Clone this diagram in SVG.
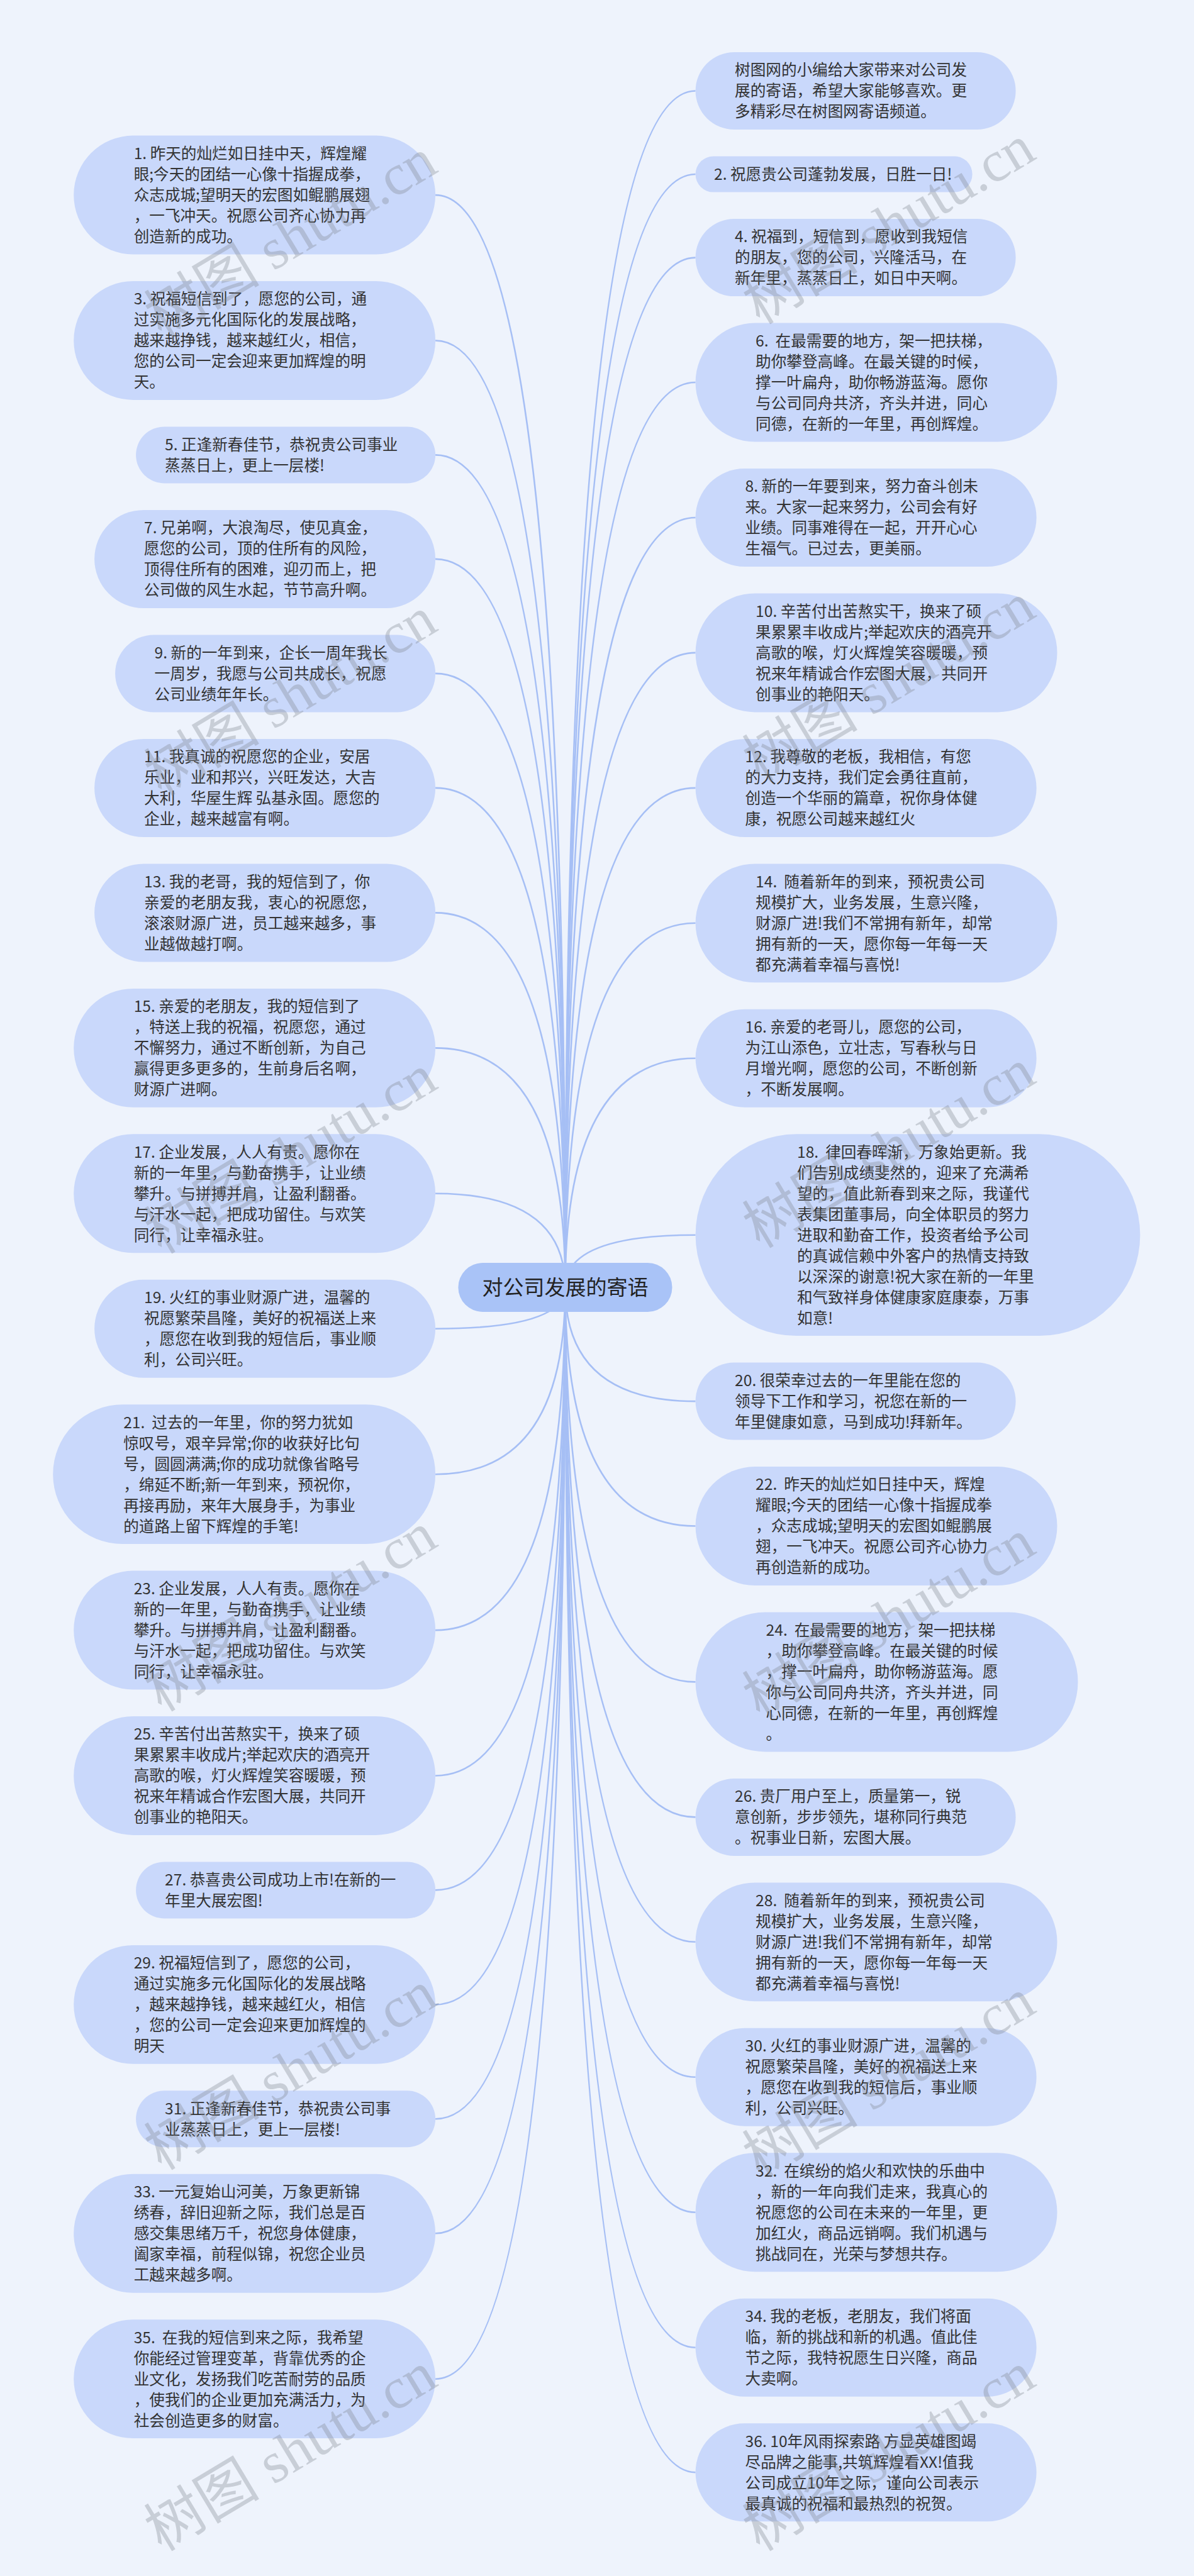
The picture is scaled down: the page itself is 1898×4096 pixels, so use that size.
<svg xmlns="http://www.w3.org/2000/svg" width="1898" height="4096" viewBox="0 0 1898 4096">
<style>
.bg{fill:#eef3fc}
.n rect{fill:#c9d8fb}
text{font-family:"Noto Sans CJK SC","Noto Sans",sans-serif}
.n text{font-size:24.6px;fill:#333}
#root rect{fill:#a9c3f7}
#root text{font-size:33px;fill:#222}
#links path{fill:none;stroke:#a6bff5;stroke-width:2.6}
.wm text{font-family:"Liberation Serif","Noto Sans CJK SC",serif;font-size:92px;fill:#7d828c;fill-opacity:0.33}
</style>
<rect class="bg" x="0" y="0" width="1898" height="4096"/>
<g id="links">
<path d="M898.5 2047Q898.5 310.1 692.1 310.1"/>
<path d="M898.5 2047Q898.5 541.5 692.1 541.5"/>
<path d="M898.5 2047Q898.5 723.4 692.1 723.4"/>
<path d="M898.5 2047Q898.5 888.9 692.1 888.9"/>
<path d="M898.5 2047Q898.5 1070.9 692.1 1070.9"/>
<path d="M898.5 2047Q898.5 1252.9 692.1 1252.9"/>
<path d="M898.5 2047Q898.5 1451.4 692.1 1451.4"/>
<path d="M898.5 2047Q898.5 1666.4 692.1 1666.4"/>
<path d="M898.5 2047Q898.5 1897.8 692.1 1897.8"/>
<path d="M898.5 2047Q898.5 2112.7 692.1 2112.7"/>
<path d="M898.5 2047Q898.5 2344.2 692.1 2344.2"/>
<path d="M898.5 2047Q898.5 2592.1 692.1 2592.1"/>
<path d="M898.5 2047Q898.5 2823.5 692.1 2823.5"/>
<path d="M898.5 2047Q898.5 3005.4 692.1 3005.4"/>
<path d="M898.5 2047Q898.5 3187.4 692.1 3187.4"/>
<path d="M898.5 2047Q898.5 3369.3 692.1 3369.3"/>
<path d="M898.5 2047Q898.5 3551.3 692.1 3551.3"/>
<path d="M898.5 2047Q898.5 3782.7 692.1 3782.7"/>
<path d="M898.5 2047Q898.5 144.5 1105.6 144.5"/>
<path d="M898.5 2047Q898.5 277.0 1105.6 277.0"/>
<path d="M898.5 2047Q898.5 409.6 1105.6 409.6"/>
<path d="M898.5 2047Q898.5 608.0 1105.6 608.0"/>
<path d="M898.5 2047Q898.5 823.0 1105.6 823.0"/>
<path d="M898.5 2047Q898.5 1037.9 1105.6 1037.9"/>
<path d="M898.5 2047Q898.5 1252.9 1105.6 1252.9"/>
<path d="M898.5 2047Q898.5 1467.8 1105.6 1467.8"/>
<path d="M898.5 2047Q898.5 1682.8 1105.6 1682.8"/>
<path d="M898.5 2047Q898.5 1963.7 1105.6 1963.7"/>
<path d="M898.5 2047Q898.5 2228.1 1105.6 2228.1"/>
<path d="M898.5 2047Q898.5 2426.5 1105.6 2426.5"/>
<path d="M898.5 2047Q898.5 2674.4 1105.6 2674.4"/>
<path d="M898.5 2047Q898.5 2889.4 1105.6 2889.4"/>
<path d="M898.5 2047Q898.5 3087.8 1105.6 3087.8"/>
<path d="M898.5 2047Q898.5 3302.8 1105.6 3302.8"/>
<path d="M898.5 2047Q898.5 3517.7 1105.6 3517.7"/>
<path d="M898.5 2047Q898.5 3732.7 1105.6 3732.7"/>
<path d="M898.5 2047Q898.5 3931.2 1105.6 3931.2"/>
</g>
<g id="root"><rect x="728.4" y="2008.1" width="340.1" height="77.8" rx="38.9"/><text x="898.5" y="2059" text-anchor="middle">对公司发展的寄语</text></g>

<g id="n1" class="n"><rect x="117.2" y="215.6" width="574.9" height="188.9" rx="94.5"/><text xml:space="preserve"><tspan x="212.7" y="252.9">1. 昨天的灿烂如日挂中天，辉煌耀</tspan><tspan x="212.7" dy="33">眼;今天的团结一心像十指握成拳，</tspan><tspan x="212.7" dy="33">众志成城;望明天的宏图如鲲鹏展翅</tspan><tspan x="212.7" dy="33">，一飞冲天。祝愿公司齐心协力再</tspan><tspan x="212.7" dy="33">创造新的成功。</tspan></text></g>
<g id="n3" class="n"><rect x="117.2" y="447.0" width="574.9" height="188.9" rx="94.5"/><text xml:space="preserve"><tspan x="212.7" y="484.3">3. 祝福短信到了，愿您的公司，通</tspan><tspan x="212.7" dy="33">过实施多元化国际化的发展战略，</tspan><tspan x="212.7" dy="33">越来越挣钱，越来越红火，相信，</tspan><tspan x="212.7" dy="33">您的公司一定会迎来更加辉煌的明</tspan><tspan x="212.7" dy="33">天。</tspan></text></g>
<g id="n5" class="n"><rect x="216.1" y="678.4" width="476" height="90" rx="45"/><text xml:space="preserve"><tspan x="262.1" y="715.7">5. 正逢新春佳节，恭祝贵公司事业</tspan><tspan x="262.1" dy="33">蒸蒸日上，更上一层楼!</tspan></text></g>
<g id="n7" class="n"><rect x="150.1" y="810.9" width="542" height="156" rx="78"/><text xml:space="preserve"><tspan x="229.1" y="848.2">7. 兄弟啊，大浪淘尽，使见真金，</tspan><tspan x="229.1" dy="33">愿您的公司，顶的住所有的风险，</tspan><tspan x="229.1" dy="33">顶得住所有的困难，迎刃而上，把</tspan><tspan x="229.1" dy="33">公司做的风生水起，节节高升啊。</tspan></text></g>
<g id="n9" class="n"><rect x="183.1" y="1009.4" width="509" height="123" rx="61.5"/><text xml:space="preserve"><tspan x="245.6" y="1046.7">9. 新的一年到来，企长一周年我长</tspan><tspan x="245.6" dy="33">一周岁，我愿与公司共成长，祝愿</tspan><tspan x="245.6" dy="33">公司业绩年年长。</tspan></text></g>
<g id="n11" class="n"><rect x="150.1" y="1174.9" width="542" height="156" rx="78"/><text xml:space="preserve"><tspan x="229.1" y="1212.2">11. 我真诚的祝愿您的企业，安居</tspan><tspan x="229.1" dy="33">乐业，业和邦兴，兴旺发达，大吉</tspan><tspan x="229.1" dy="33">大利，华屋生辉 弘基永固。愿您的</tspan><tspan x="229.1" dy="33">企业，越来越富有啊。</tspan></text></g>
<g id="n13" class="n"><rect x="150.1" y="1373.4" width="542" height="156" rx="78"/><text xml:space="preserve"><tspan x="229.1" y="1410.7">13. 我的老哥，我的短信到了，你</tspan><tspan x="229.1" dy="33">亲爱的老朋友我，衷心的祝愿您，</tspan><tspan x="229.1" dy="33">滚滚财源广进，员工越来越多，事</tspan><tspan x="229.1" dy="33">业越做越打啊。</tspan></text></g>
<g id="n15" class="n"><rect x="117.2" y="1571.9" width="574.9" height="188.9" rx="94.5"/><text xml:space="preserve"><tspan x="212.7" y="1609.2">15. 亲爱的老朋友，我的短信到了</tspan><tspan x="212.7" dy="33">，特送上我的祝福，祝愿您，通过</tspan><tspan x="212.7" dy="33">不懈努力，通过不断创新，为自己</tspan><tspan x="212.7" dy="33">赢得更多更多的，生前身后名啊，</tspan><tspan x="212.7" dy="33">财源广进啊。</tspan></text></g>
<g id="n17" class="n"><rect x="117.2" y="1803.3" width="574.9" height="188.9" rx="94.5"/><text xml:space="preserve"><tspan x="212.7" y="1840.6">17. 企业发展，人人有责。愿你在</tspan><tspan x="212.7" dy="33">新的一年里，与勤奋携手，让业绩</tspan><tspan x="212.7" dy="33">攀升。与拼搏并肩，让盈利翻番。</tspan><tspan x="212.7" dy="33">与汗水一起，把成功留住。与欢笑</tspan><tspan x="212.7" dy="33">同行，让幸福永驻。</tspan></text></g>
<g id="n19" class="n"><rect x="150.1" y="2034.7" width="542" height="156" rx="78"/><text xml:space="preserve"><tspan x="229.1" y="2072.0">19. 火红的事业财源广进，温馨的</tspan><tspan x="229.1" dy="33">祝愿繁荣昌隆，美好的祝福送上来</tspan><tspan x="229.1" dy="33">，愿您在收到我的短信后，事业顺</tspan><tspan x="229.1" dy="33">利，公司兴旺。</tspan></text></g>
<g id="n21" class="n"><rect x="84.2" y="2233.2" width="607.9" height="221.9" rx="111"/><text xml:space="preserve"><tspan x="196.2" y="2270.5">21.  过去的一年里，你的努力犹如</tspan><tspan x="196.2" dy="33">惊叹号，艰辛异常;你的收获好比句</tspan><tspan x="196.2" dy="33">号，圆圆满满;你的成功就像省略号</tspan><tspan x="196.2" dy="33">，绵延不断;新一年到来，预祝你，</tspan><tspan x="196.2" dy="33">再接再励，来年大展身手，为事业</tspan><tspan x="196.2" dy="33">的道路上留下辉煌的手笔!</tspan></text></g>
<g id="n23" class="n"><rect x="117.2" y="2497.6" width="574.9" height="188.9" rx="94.5"/><text xml:space="preserve"><tspan x="212.7" y="2534.9">23. 企业发展，人人有责。愿你在</tspan><tspan x="212.7" dy="33">新的一年里，与勤奋携手，让业绩</tspan><tspan x="212.7" dy="33">攀升。与拼搏并肩，让盈利翻番。</tspan><tspan x="212.7" dy="33">与汗水一起，把成功留住。与欢笑</tspan><tspan x="212.7" dy="33">同行，让幸福永驻。</tspan></text></g>
<g id="n25" class="n"><rect x="117.2" y="2729.0" width="574.9" height="188.9" rx="94.5"/><text xml:space="preserve"><tspan x="212.7" y="2766.3">25. 辛苦付出苦熬实干，换来了硕</tspan><tspan x="212.7" dy="33">果累累丰收成片;举起欢庆的酒亮开</tspan><tspan x="212.7" dy="33">高歌的喉，灯火辉煌笑容暖暖，预</tspan><tspan x="212.7" dy="33">祝来年精诚合作宏图大展，共同开</tspan><tspan x="212.7" dy="33">创事业的艳阳天。</tspan></text></g>
<g id="n27" class="n"><rect x="216.1" y="2960.4" width="476" height="90" rx="45"/><text xml:space="preserve"><tspan x="262.1" y="2997.7">27. 恭喜贵公司成功上市!在新的一</tspan><tspan x="262.1" dy="33">年里大展宏图!</tspan></text></g>
<g id="n29" class="n"><rect x="117.2" y="3092.9" width="574.9" height="188.9" rx="94.5"/><text xml:space="preserve"><tspan x="212.7" y="3130.2">29. 祝福短信到了，愿您的公司，</tspan><tspan x="212.7" dy="33">通过实施多元化国际化的发展战略</tspan><tspan x="212.7" dy="33">，越来越挣钱，越来越红火，相信</tspan><tspan x="212.7" dy="33">，您的公司一定会迎来更加辉煌的</tspan><tspan x="212.7" dy="33">明天</tspan></text></g>
<g id="n31" class="n"><rect x="216.1" y="3324.3" width="476" height="90" rx="45"/><text xml:space="preserve"><tspan x="262.1" y="3361.6">31. 正逢新春佳节，恭祝贵公司事</tspan><tspan x="262.1" dy="33">业蒸蒸日上，更上一层楼!</tspan></text></g>
<g id="n33" class="n"><rect x="117.2" y="3456.8" width="574.9" height="188.9" rx="94.5"/><text xml:space="preserve"><tspan x="212.7" y="3494.1">33. 一元复始山河美，万象更新锦</tspan><tspan x="212.7" dy="33">绣春，辞旧迎新之际，我们总是百</tspan><tspan x="212.7" dy="33">感交集思绪万千，祝您身体健康，</tspan><tspan x="212.7" dy="33">阖家幸福，前程似锦，祝您企业员</tspan><tspan x="212.7" dy="33">工越来越多啊。</tspan></text></g>
<g id="n35" class="n"><rect x="117.2" y="3688.2" width="574.9" height="188.9" rx="94.5"/><text xml:space="preserve"><tspan x="212.7" y="3725.5">35.  在我的短信到来之际，我希望</tspan><tspan x="212.7" dy="33">你能经过管理变革，背靠优秀的企</tspan><tspan x="212.7" dy="33">业文化，发扬我们吃苦耐劳的品质</tspan><tspan x="212.7" dy="33">，使我们的企业更加充满活力，为</tspan><tspan x="212.7" dy="33">社会创造更多的财富。</tspan></text></g>

<g id="n0" class="n"><rect x="1105.6" y="83.0" width="509" height="123" rx="61.5"/><text xml:space="preserve"><tspan x="1168.1" y="120.3">树图网的小编给大家带来对公司发</tspan><tspan x="1168.1" dy="33">展的寄语，希望大家能够喜欢。更</tspan><tspan x="1168.1" dy="33">多精彩尽在树图网寄语频道。</tspan></text></g>
<g id="n2" class="n"><rect x="1105.6" y="248.5" width="440" height="57.05" rx="28.5"/><text xml:space="preserve"><tspan x="1135.1" y="285.8">2. 祝愿贵公司蓬勃发展，日胜一日!</tspan></text></g>
<g id="n4" class="n"><rect x="1105.6" y="348.1" width="509" height="123" rx="61.5"/><text xml:space="preserve"><tspan x="1168.1" y="385.4">4. 祝福到，短信到，愿收到我短信</tspan><tspan x="1168.1" dy="33">的朋友，您的公司，兴隆活马，在</tspan><tspan x="1168.1" dy="33">新年里，蒸蒸日上，如日中天啊。</tspan></text></g>
<g id="n6" class="n"><rect x="1105.6" y="513.6" width="574.9" height="188.9" rx="94.5"/><text xml:space="preserve"><tspan x="1201.1" y="550.8">6.  在最需要的地方，架一把扶梯，</tspan><tspan x="1201.1" dy="33">助你攀登高峰。在最关键的时候，</tspan><tspan x="1201.1" dy="33">撑一叶扁舟，助你畅游蓝海。愿你</tspan><tspan x="1201.1" dy="33">与公司同舟共济，齐头并进，同心</tspan><tspan x="1201.1" dy="33">同德，在新的一年里，再创辉煌。</tspan></text></g>
<g id="n8" class="n"><rect x="1105.6" y="745.0" width="542" height="156" rx="78"/><text xml:space="preserve"><tspan x="1184.6" y="782.3">8. 新的一年要到来，努力奋斗创未</tspan><tspan x="1184.6" dy="33">来。大家一起来努力，公司会有好</tspan><tspan x="1184.6" dy="33">业绩。同事难得在一起，开开心心</tspan><tspan x="1184.6" dy="33">生福气。已过去，更美丽。</tspan></text></g>
<g id="n10" class="n"><rect x="1105.6" y="943.5" width="574.9" height="188.9" rx="94.5"/><text xml:space="preserve"><tspan x="1201.1" y="980.7">10. 辛苦付出苦熬实干，换来了硕</tspan><tspan x="1201.1" dy="33">果累累丰收成片;举起欢庆的酒亮开</tspan><tspan x="1201.1" dy="33">高歌的喉，灯火辉煌笑容暖暖，预</tspan><tspan x="1201.1" dy="33">祝来年精诚合作宏图大展，共同开</tspan><tspan x="1201.1" dy="33">创事业的艳阳天。</tspan></text></g>
<g id="n12" class="n"><rect x="1105.6" y="1174.9" width="542" height="156" rx="78"/><text xml:space="preserve"><tspan x="1184.6" y="1212.2">12. 我尊敬的老板，我相信，有您</tspan><tspan x="1184.6" dy="33">的大力支持，我们定会勇往直前，</tspan><tspan x="1184.6" dy="33">创造一个华丽的篇章，祝你身体健</tspan><tspan x="1184.6" dy="33">康，祝愿公司越来越红火</tspan></text></g>
<g id="n14" class="n"><rect x="1105.6" y="1373.4" width="574.9" height="188.9" rx="94.5"/><text xml:space="preserve"><tspan x="1201.1" y="1410.6">14.  随着新年的到来，预祝贵公司</tspan><tspan x="1201.1" dy="33">规模扩大，业务发展，生意兴隆，</tspan><tspan x="1201.1" dy="33">财源广进!我们不常拥有新年，却常</tspan><tspan x="1201.1" dy="33">拥有新的一天，愿你每一年每一天</tspan><tspan x="1201.1" dy="33">都充满着幸福与喜悦!</tspan></text></g>
<g id="n16" class="n"><rect x="1105.6" y="1604.8" width="542" height="156" rx="78"/><text xml:space="preserve"><tspan x="1184.6" y="1642.1">16. 亲爱的老哥儿，愿您的公司，</tspan><tspan x="1184.6" dy="33">为江山添色，立壮志，写春秋与日</tspan><tspan x="1184.6" dy="33">月增光啊，愿您的公司，不断创新</tspan><tspan x="1184.6" dy="33">，不断发展啊。</tspan></text></g>
<g id="n18" class="n"><rect x="1105.6" y="1803.3" width="706.8" height="320.8" rx="160.4"/><text xml:space="preserve"><tspan x="1267" y="1840.5">18.  律回春晖渐，万象始更新。我</tspan><tspan x="1267" dy="33">们告别成绩斐然的，迎来了充满希</tspan><tspan x="1267" dy="33">望的，值此新春到来之际，我谨代</tspan><tspan x="1267" dy="33">表集团董事局，向全体职员的努力</tspan><tspan x="1267" dy="33">进取和勤奋工作，投资者给予公司</tspan><tspan x="1267" dy="33">的真诚信赖中外客户的热情支持致</tspan><tspan x="1267" dy="33">以深深的谢意!祝大家在新的一年里</tspan><tspan x="1267" dy="33">和气致祥身体健康家庭康泰，万事</tspan><tspan x="1267" dy="33">如意!</tspan></text></g>
<g id="n20" class="n"><rect x="1105.6" y="2166.6" width="509" height="123" rx="61.5"/><text xml:space="preserve"><tspan x="1168.1" y="2203.9">20. 很荣幸过去的一年里能在您的</tspan><tspan x="1168.1" dy="33">领导下工作和学习，祝您在新的一</tspan><tspan x="1168.1" dy="33">年里健康如意，马到成功!拜新年。</tspan></text></g>
<g id="n22" class="n"><rect x="1105.6" y="2332.1" width="574.9" height="188.9" rx="94.5"/><text xml:space="preserve"><tspan x="1201.1" y="2369.3">22.  昨天的灿烂如日挂中天，辉煌</tspan><tspan x="1201.1" dy="33">耀眼;今天的团结一心像十指握成拳</tspan><tspan x="1201.1" dy="33">，众志成城;望明天的宏图如鲲鹏展</tspan><tspan x="1201.1" dy="33">翅，一飞冲天。祝愿公司齐心协力</tspan><tspan x="1201.1" dy="33">再创造新的成功。</tspan></text></g>
<g id="n24" class="n"><rect x="1105.6" y="2563.5" width="607.9" height="221.9" rx="111"/><text xml:space="preserve"><tspan x="1217.6" y="2600.7">24.  在最需要的地方，架一把扶梯</tspan><tspan x="1217.6" dy="33">，助你攀登高峰。在最关键的时候</tspan><tspan x="1217.6" dy="33">，撑一叶扁舟，助你畅游蓝海。愿</tspan><tspan x="1217.6" dy="33">你与公司同舟共济，齐头并进，同</tspan><tspan x="1217.6" dy="33">心同德，在新的一年里，再创辉煌</tspan><tspan x="1217.6" dy="33">。</tspan></text></g>
<g id="n26" class="n"><rect x="1105.6" y="2827.9" width="509" height="123" rx="61.5"/><text xml:space="preserve"><tspan x="1168.1" y="2865.2">26. 贵厂用户至上，质量第一，锐</tspan><tspan x="1168.1" dy="33">意创新，步步领先，堪称同行典范</tspan><tspan x="1168.1" dy="33">。祝事业日新，宏图大展。</tspan></text></g>
<g id="n28" class="n"><rect x="1105.6" y="2993.4" width="574.9" height="188.9" rx="94.5"/><text xml:space="preserve"><tspan x="1201.1" y="3030.6">28.  随着新年的到来，预祝贵公司</tspan><tspan x="1201.1" dy="33">规模扩大，业务发展，生意兴隆，</tspan><tspan x="1201.1" dy="33">财源广进!我们不常拥有新年，却常</tspan><tspan x="1201.1" dy="33">拥有新的一天，愿你每一年每一天</tspan><tspan x="1201.1" dy="33">都充满着幸福与喜悦!</tspan></text></g>
<g id="n30" class="n"><rect x="1105.6" y="3224.8" width="542" height="156" rx="78"/><text xml:space="preserve"><tspan x="1184.6" y="3262.1">30. 火红的事业财源广进，温馨的</tspan><tspan x="1184.6" dy="33">祝愿繁荣昌隆，美好的祝福送上来</tspan><tspan x="1184.6" dy="33">，愿您在收到我的短信后，事业顺</tspan><tspan x="1184.6" dy="33">利，公司兴旺。</tspan></text></g>
<g id="n32" class="n"><rect x="1105.6" y="3423.3" width="574.9" height="188.9" rx="94.5"/><text xml:space="preserve"><tspan x="1201.1" y="3460.5">32.  在缤纷的焰火和欢快的乐曲中</tspan><tspan x="1201.1" dy="33">，新的一年向我们走来，我真心的</tspan><tspan x="1201.1" dy="33">祝愿您的公司在未来的一年里，更</tspan><tspan x="1201.1" dy="33">加红火，商品远销啊。我们机遇与</tspan><tspan x="1201.1" dy="33">挑战同在，光荣与梦想共存。</tspan></text></g>
<g id="n34" class="n"><rect x="1105.6" y="3654.7" width="542" height="156" rx="78"/><text xml:space="preserve"><tspan x="1184.6" y="3692.0">34. 我的老板，老朋友，我们将面</tspan><tspan x="1184.6" dy="33">临，新的挑战和新的机遇。值此佳</tspan><tspan x="1184.6" dy="33">节之际，我特祝愿生日兴隆，商品</tspan><tspan x="1184.6" dy="33">大卖啊。</tspan></text></g>
<g id="n36" class="n"><rect x="1105.6" y="3853.2" width="542" height="156" rx="78"/><text xml:space="preserve"><tspan x="1184.6" y="3890.5">36. 10年风雨探索路 方显英雄图竭</tspan><tspan x="1184.6" dy="33">尽品牌之能事,共筑辉煌看XX!值我</tspan><tspan x="1184.6" dy="33">公司成立10年之际，谨向公司表示</tspan><tspan x="1184.6" dy="33">最真诚的祝福和最热烈的祝贺。</tspan></text></g>

<g class="wm" text-anchor="middle">
<text transform="translate(478 405) rotate(-31)">树图 shutu.cn</text>
<text transform="translate(478 1134) rotate(-31)">树图 shutu.cn</text>
<text transform="translate(478 1862) rotate(-31)">树图 shutu.cn</text>
<text transform="translate(478 2590) rotate(-31)">树图 shutu.cn</text>
<text transform="translate(478 3319) rotate(-31)">树图 shutu.cn</text>
<text transform="translate(478 3925) rotate(-31)">树图 shutu.cn</text>
<text transform="translate(1429 384) rotate(-31)">树图 shutu.cn</text>
<text transform="translate(1429 1112) rotate(-31)">树图 shutu.cn</text>
<text transform="translate(1429 1853) rotate(-31)">树图 shutu.cn</text>
<text transform="translate(1429 2601) rotate(-31)">树图 shutu.cn</text>
<text transform="translate(1429 3331) rotate(-31)">树图 shutu.cn</text>
<text transform="translate(1429 3925) rotate(-31)">树图 shutu.cn</text>
</g>
</svg>
